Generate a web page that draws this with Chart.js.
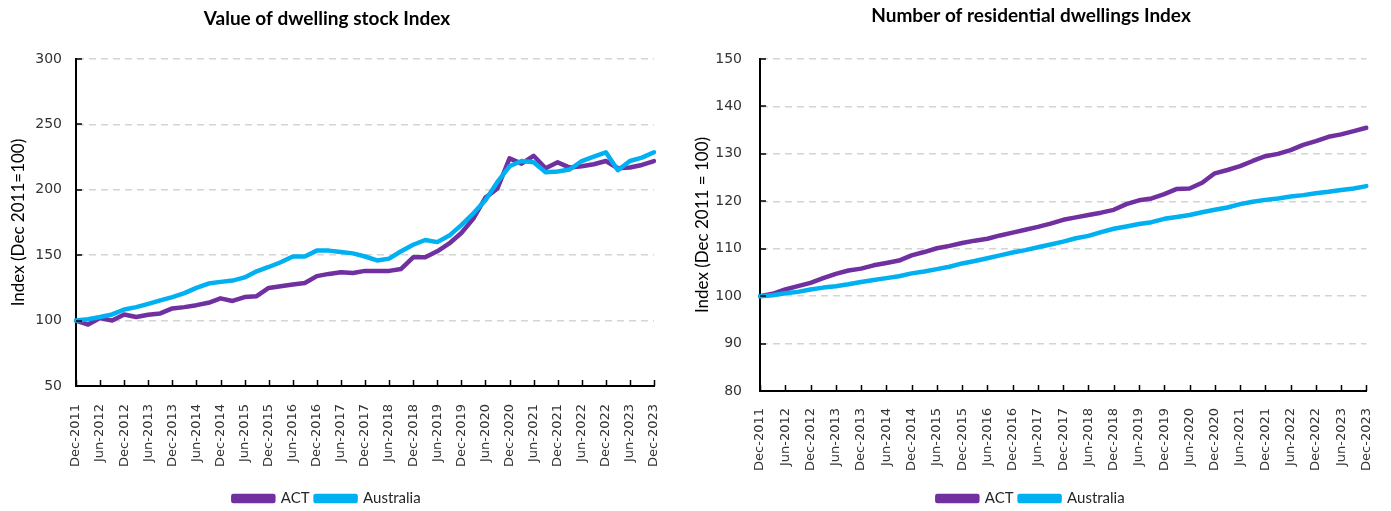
<!DOCTYPE html>
<html>
<head>
<meta charset="utf-8">
<script src="https://cdn.jsdelivr.net/npm/chart.js@4/dist/chart.umd.min.js"></script>
<style>
  html, body { margin: 0; padding: 0; background: #fff; }
  .wrap { position: absolute; top: 0; height: 511px; }
  #left-wrap { left: 0; width: 690px; }
  #right-wrap { left: 690px; width: 701px; }
</style>
</head>
<body>
<div class="wrap" id="left-wrap"><canvas id="valueChart"></canvas></div>
<div class="wrap" id="right-wrap"><canvas id="dwellChart"></canvas></div>
<script>
// quarters, Dec-2011 .. Dec-2023
const quarters = [
  'Dec-2011','Mar-2012','Jun-2012','Sep-2012','Dec-2012','Mar-2013','Jun-2013','Sep-2013',
  'Dec-2013','Mar-2014','Jun-2014','Sep-2014','Dec-2014','Mar-2015','Jun-2015','Sep-2015',
  'Dec-2015','Mar-2016','Jun-2016','Sep-2016','Dec-2016','Mar-2017','Jun-2017','Sep-2017',
  'Dec-2017','Mar-2018','Jun-2018','Sep-2018','Dec-2018','Mar-2019','Jun-2019','Sep-2019',
  'Dec-2019','Mar-2020','Jun-2020','Sep-2020','Dec-2020','Mar-2021','Jun-2021','Sep-2021',
  'Dec-2021','Mar-2022','Jun-2022','Sep-2022','Dec-2022','Mar-2023','Jun-2023','Sep-2023',
  'Dec-2023'
];

// Value of dwelling stock Index
const valueAct = [100, 97, 102, 100, 104.7, 102.7, 104.5, 105.5, 109.3, 110.3, 111.8, 113.6,
  117, 115, 118, 118.7, 125, 126.3, 127.6, 128.8, 134, 135.7, 137, 136.4,
  138, 138, 138, 139.5, 148.4, 148.4, 153, 159, 167, 178, 194, 201,
  224, 220, 226, 216.5, 221, 217, 218, 219.5, 222, 216.5, 217, 219, 222];
const valueAus = [100, 101, 102.7, 104.7, 108.5, 110.3, 112.8, 115.4, 118, 121, 125, 128.3,
  129.6, 130.6, 133, 137.7, 141, 144.6, 149, 149, 153.5, 153.5, 152.4, 151.4,
  149, 146, 147.4, 153, 158, 161.6, 160, 165, 173, 182, 192, 206,
  218, 222, 221, 213.5, 214, 215.5, 222, 225.4, 228.7, 215, 222, 224.6, 228.7];

// Number of residential dwellings Index
const dwellAct = [100, 100.5, 101.4, 102.1, 102.8, 103.8, 104.7, 105.4, 105.8, 106.5, 107, 107.5,
  108.6, 109.3, 110.1, 110.6, 111.2, 111.7, 112.1, 112.8, 113.4, 114, 114.6, 115.3,
  116.1, 116.6, 117.1, 117.6, 118.2, 119.4, 120.2, 120.6, 121.5, 122.6, 122.7, 123.9,
  125.9, 126.6, 127.4, 128.5, 129.5, 130, 130.8, 131.9, 132.7, 133.6, 134.1, 134.8, 135.5];
const dwellAus = [100, 100.2, 100.6, 100.9, 101.4, 101.8, 102.1, 102.5, 103.0, 103.4, 103.8, 104.2,
  104.8, 105.2, 105.7, 106.2, 106.9, 107.4, 108.0, 108.6, 109.2, 109.7, 110.3, 110.9,
  111.5, 112.2, 112.7, 113.5, 114.2, 114.7, 115.2, 115.6, 116.3, 116.7, 117.1, 117.7,
  118.2, 118.7, 119.4, 119.9, 120.3, 120.6, 121, 121.3, 121.7, 122, 122.4, 122.7, 123.2];

const valueTicks = {min: 50, max: 300, step: 50};
const dwellTicks = {min: 80, max: 150, step: 10};

const ACT_COLOR = '#7030A0';
const AUS_COLOR = '#00B0F0';

// small tick marks pointing into the plot (like excel)
const innerTicks = {
  id: 'innerTicks',
  afterDraw(chart) {
    const {ctx} = chart;
    const xs = chart.scales.x, ys = chart.scales.y;
    ctx.save();
    ctx.strokeStyle = '#000';
    ctx.lineWidth = 1.5;
    ctx.beginPath();
    for (let i = 0; i < quarters.length; i += 2) {
      const px = Math.round(xs.getPixelForValue(i)) + 0.5;
      ctx.moveTo(px, ys.bottom);
      ctx.lineTo(px, ys.bottom - 6);
    }
    ys.ticks.forEach(t => {
      const py = Math.round(ys.getPixelForValue(t.value));
      ctx.moveTo(xs.left, py);
      ctx.lineTo(xs.left + 6, py);
    });
    ctx.stroke();
    ctx.restore();
  }
};

function makeChart(id, cfg) {
  const ctx = document.getElementById(id);
  return new Chart(ctx, {
    type: 'line',
    data: {
      labels: quarters,
      datasets: [
        {label: 'ACT', data: cfg.act, borderColor: ACT_COLOR, backgroundColor: ACT_COLOR, order: 1},
        {label: 'Australia', data: cfg.aus, borderColor: AUS_COLOR, backgroundColor: AUS_COLOR, order: 0}
      ]
    },
    options: {
      responsive: true,
      maintainAspectRatio: false,
      animation: false,
      layout: {padding: {top: 0, right: cfg.padRight, bottom: -5, left: 0}},
      elements: {
        line: {borderWidth: 4.5, tension: 0, borderJoinStyle: 'round', borderCapStyle: 'round'},
        point: {radius: 0}
      },
      plugins: {
        title: {
          display: true, text: cfg.title, color: '#000',
          font: {family: 'Lato', size: 19, weight: 'bold'},
          padding: {top: cfg.titleTop, bottom: cfg.titleBottom}
        },
        legend: {
          position: 'bottom',
          labels: {
            boxWidth: 40, boxHeight: 5, padding: 6, color: '#262626',
            font: {family: 'Lato', size: 15},
            sort: (a, b) => a.datasetIndex - b.datasetIndex
          }
        },
        tooltip: {enabled: false}
      },
      scales: {
        x: {
          grid: {display: false},
          border: {display: true, color: '#000', width: 2},
          ticks: {
            autoSkip: false, maxRotation: 90, minRotation: 90, padding: cfg.xPad,
            color: '#333', font: {family: 'DejaVu Sans', size: 13},
            callback: function (val, i) { return i % 2 === 0 ? this.getLabelForValue(val) : ''; }
          },
          afterFit: s => { s.height = cfg.xHeight; }
        },
        y: {
          min: cfg.ticks.min, max: cfg.ticks.max,
          grid: {color: '#d4d4d4', lineWidth: 1.5, drawTicks: false},
          border: {display: true, color: '#000', width: 2, dash: [7, 5]},
          ticks: {
            stepSize: cfg.ticks.step, padding: cfg.yPad, color: '#333',
            font: {family: 'DejaVu Sans', size: 14}
          },
          title: {
            display: true, text: cfg.yTitle, color: '#000',
            font: {family: 'Lato', size: 17},
            padding: {top: cfg.yTitleTop, bottom: 0}
          },
          afterFit: s => { s.width = cfg.yWidth; }
        }
      }
    },
    plugins: [innerTicks]
  });
}

makeChart('valueChart', {
  title: 'Value of dwelling stock Index',
  yTitle: 'Index (Dec 2011=100)',
  act: valueAct, aus: valueAus, ticks: valueTicks,
  padRight: 36, titleTop: 7.6, titleBottom: 28.6,
  xHeight: 99, xPad: 10, yWidth: 76, yPad: 14, yTitleTop: 8
});

makeChart('dwellChart', {
  title: 'Number of residential dwellings Index',
  yTitle: 'Index (Dec 2011 = 100)',
  act: dwellAct, aus: dwellAus, ticks: dwellTicks,
  padRight: 19, titleTop: 4.6, titleBottom: 31.6,
  xHeight: 94, xPad: 9, yWidth: 70, yPad: 18, yTitleTop: 2
});
</script>
</body>
</html>
